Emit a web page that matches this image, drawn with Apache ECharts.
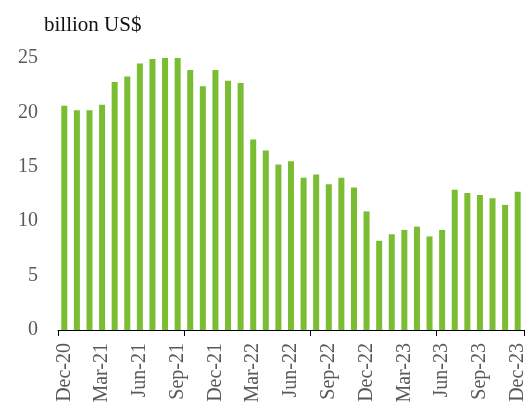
<!DOCTYPE html>
<html>
<head>
<meta charset="utf-8">
<script src="https://cdn.jsdelivr.net/npm/echarts@6/dist/echarts.min.js"></script>
<style>
  html, body { margin: 0; padding: 0; background: #fff; }
  #chart { width: 531px; height: 413px; }
</style>
</head>
<body>
<div id="chart"></div>
<script>
// Monthly values, Dec-20 through Dec-23
const months = [
  'Dec-20','Jan-21','Feb-21','Mar-21','Apr-21','May-21','Jun-21','Jul-21','Aug-21','Sep-21','Oct-21','Nov-21',
  'Dec-21','Jan-22','Feb-22','Mar-22','Apr-22','May-22','Jun-22','Jul-22','Aug-22','Sep-22','Oct-22','Nov-22',
  'Dec-22','Jan-23','Feb-23','Mar-23','Apr-23','May-23','Jun-23','Jul-23','Aug-23','Sep-23','Oct-23','Nov-23',
  'Dec-23'
];
const values = [
  20.6, 20.2, 20.2, 20.7, 22.8, 23.3, 24.5, 24.9, 25.0, 25.0, 23.9, 22.4,
  23.9, 22.9, 22.7, 17.5, 16.5, 15.2, 15.5, 14.0, 14.3, 13.4, 14.0, 13.1,
  10.9, 8.2, 8.8, 9.2, 9.5, 8.6, 9.2, 12.9, 12.6, 12.4, 12.1, 11.5,
  12.7
];
const unitLabel = 'billion US$';

const fontFamily = '"Liberation Serif", "DejaVu Serif", serif';
const chart = echarts.init(document.getElementById('chart'), null, { renderer: 'canvas' });
chart.setOption({
  animation: false,
  title: {
    text: unitLabel,
    left: 39,
    top: 10,
    textStyle: { fontFamily, fontSize: 21, fontWeight: 'normal', color: '#111' }
  },
  grid: { left: 58, right: 7, top: 58, bottom: 83, containLabel: false },
  xAxis: {
    type: 'category',
    data: months,
    boundaryGap: true,
    axisLine: { lineStyle: { color: '#000', width: 1 } },
    axisTick: { show: true, interval: 9, length: 6, lineStyle: { color: '#000' } },
    axisLabel: {
      interval: 2,
      rotate: 90,
      margin: 13,
      fontFamily,
      fontSize: 20,
      color: '#595959'
    },
    splitLine: { show: false }
  },
  yAxis: {
    type: 'value',
    min: 0,
    max: 25,
    interval: 5,
    axisLine: { show: false },
    axisTick: { show: false },
    splitLine: { show: false },
    axisLabel: { margin: 20, fontFamily, fontSize: 20, color: '#595959' }
  },
  series: [{
    type: 'bar',
    data: values,
    barWidth: 6,
    itemStyle: { color: '#7ABC32' }
  }]
});
</script>
</body>
</html>
